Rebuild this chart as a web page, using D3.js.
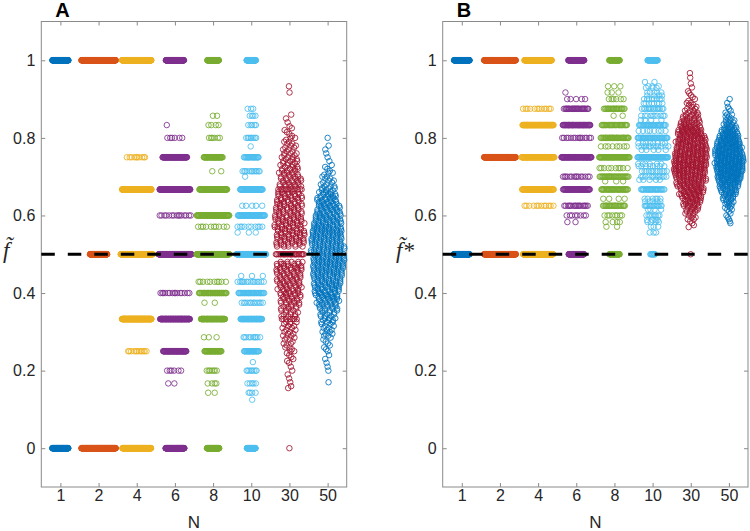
<!DOCTYPE html>
<html>
<head>
  <title>Swarm</title>
  <meta charset="utf8">
  <style type="text/css">
    body { margin: 0; background: #fff; }
  </style>
</head>
<body>

<script src="https://d3js.org/d3.v7.min.js"></script>

<script type="text/javascript">

var groups = ['1', '2', '4', '6', '8', '10', '30', '50']
var colors = ['#0072BD', '#D95319', '#EDB120', '#7E2F8E', '#77AC30', '#4DBEEE', '#A2142F', '#0072BD']
var yTicks = [0, 0.2, 0.4, 0.6, 0.8, 1]

// panel A, [value, number of runs]
var a1 = [[0, 132], [1, 132]]
var a2 = [[0, 282], [0.5, 142], [1, 282]]
var a4 = [[0, 234], [0.25, 12], [0.333, 192], [0.5, 168], [0.667, 192], [0.75, 10], [1, 240]]
var a6 = [[0, 150], [0.167, 2], [0.2, 6], [0.25, 72], [0.333, 132], [0.4, 15], [0.5, 180], [0.6, 15],
  [0.667, 132], [0.75, 84], [0.8, 6], [0.833, 1], [1, 144]]
var a8 = [[0, 96], [0.143, 2], [0.167, 4], [0.2, 7], [0.25, 42], [0.286, 3], [0.333, 84], [0.375, 2],
  [0.4, 42], [0.429, 10], [0.5, 132], [0.571, 10], [0.6, 84], [0.667, 84], [0.714, 2], [0.75, 48],
  [0.8, 6], [0.833, 4], [0.857, 2], [1, 90]]
var a10 = [[0, 66], [0.125, 1], [0.143, 4], [0.167, 5], [0.2, 8], [0.222, 1], [0.25, 30], [0.286, 10],
  [0.333, 60], [0.375, 12], [0.4, 36], [0.429, 14], [0.444, 3], [0.5, 120], [0.556, 3], [0.571, 10],
  [0.6, 60], [0.625, 5], [0.667, 60], [0.7, 1], [0.714, 12], [0.75, 24], [0.778, 1], [0.8, 8],
  [0.833, 5], [0.857, 4], [0.875, 3], [1, 70]]
var a30 = [[0, 1], [0.155, 1], [0.16, 1], [0.17, 1], [0.18, 1], [0.19, 1], [0.2, 1], [0.21, 1],
  [0.22, 1], [0.225, 1], [0.23, 1], [0.235, 1], [0.24, 1], [0.245, 1], [0.25, 2], [0.255, 1],
  [0.26, 2], [0.265, 1], [0.27, 2], [0.275, 1], [0.28, 2], [0.285, 2], [0.29, 2], [0.295, 2],
  [0.3, 2], [0.305, 2], [0.31, 2], [0.315, 2], [0.32, 2], [0.325, 3], [0.333, 7], [0.34, 3],
  [0.345, 3], [0.35, 3], [0.355, 3], [0.36, 3], [0.365, 4], [0.37, 3], [0.375, 4], [0.38, 4],
  [0.385, 4], [0.39, 4], [0.395, 4], [0.4, 5], [0.405, 4], [0.41, 5], [0.415, 4], [0.42, 5],
  [0.425, 5], [0.43, 5], [0.435, 5], [0.44, 5], [0.445, 5], [0.45, 5], [0.455, 5], [0.46, 6],
  [0.465, 6], [0.47, 5], [0.475, 6], [0.48, 5], [0.5, 25], [0.52, 5], [0.525, 6], [0.53, 6],
  [0.535, 6], [0.54, 6], [0.545, 6], [0.55, 6], [0.555, 6], [0.56, 6], [0.565, 6], [0.57, 6],
  [0.575, 6], [0.58, 6], [0.585, 6], [0.59, 6], [0.595, 6], [0.6, 6], [0.605, 5], [0.61, 6],
  [0.615, 5], [0.62, 6], [0.625, 5], [0.63, 6], [0.635, 5], [0.64, 5], [0.645, 5], [0.65, 5],
  [0.655, 5], [0.66, 5], [0.667, 12], [0.675, 5], [0.68, 5], [0.685, 4], [0.69, 5], [0.695, 4],
  [0.7, 4], [0.705, 4], [0.71, 4], [0.715, 3], [0.72, 4], [0.725, 3], [0.73, 3], [0.735, 3],
  [0.74, 3], [0.745, 3], [0.75, 3], [0.755, 2], [0.76, 3], [0.765, 2], [0.77, 2], [0.775, 2],
  [0.78, 2], [0.785, 2], [0.79, 2], [0.795, 1], [0.8, 2], [0.805, 1], [0.81, 1], [0.815, 1],
  [0.82, 1], [0.825, 1], [0.83, 1], [0.84, 1], [0.85, 1], [0.86, 1], [0.917, 1], [0.933, 1]]
var a50 = [[0.17, 1], [0.2, 1], [0.21, 1], [0.22, 1], [0.23, 1], [0.24, 1], [0.25, 1], [0.255, 1],
  [0.26, 1], [0.265, 1], [0.27, 1], [0.275, 1], [0.28, 1], [0.285, 1], [0.29, 2], [0.295, 2],
  [0.3, 2], [0.305, 2], [0.31, 2], [0.315, 2], [0.32, 2], [0.325, 3], [0.33, 3], [0.335, 3],
  [0.34, 3], [0.345, 3], [0.35, 3], [0.355, 4], [0.36, 4], [0.365, 4], [0.37, 5], [0.375, 5],
  [0.38, 5], [0.385, 5], [0.39, 6], [0.395, 6], [0.4, 6], [0.405, 6], [0.41, 6], [0.415, 7],
  [0.42, 7], [0.425, 7], [0.43, 7], [0.435, 7], [0.44, 7], [0.445, 8], [0.45, 8], [0.455, 8],
  [0.46, 8], [0.465, 8], [0.47, 8], [0.475, 8], [0.48, 8], [0.485, 8], [0.49, 8], [0.495, 8],
  [0.5, 8], [0.505, 8], [0.51, 8], [0.515, 8], [0.52, 8], [0.525, 8], [0.53, 8], [0.535, 8],
  [0.54, 8], [0.545, 8], [0.55, 8], [0.555, 8], [0.56, 8], [0.565, 8], [0.57, 8], [0.575, 7],
  [0.58, 7], [0.585, 7], [0.59, 7], [0.595, 7], [0.6, 7], [0.605, 6], [0.61, 6], [0.615, 6],
  [0.62, 6], [0.625, 6], [0.63, 5], [0.635, 5], [0.64, 5], [0.645, 5], [0.65, 4], [0.655, 4],
  [0.66, 4], [0.665, 3], [0.67, 3], [0.675, 3], [0.68, 2], [0.685, 2], [0.69, 2], [0.695, 2],
  [0.7, 2], [0.705, 1], [0.71, 2], [0.715, 1], [0.72, 1], [0.725, 1], [0.73, 1], [0.74, 1],
  [0.75, 1], [0.76, 1], [0.77, 1], [0.78, 1], [0.8, 1]]

// panel B
var b1 = [[0.5, 115], [1, 115]]
var b2 = [[0.5, 225], [0.75, 215], [1, 225]]
var b4 = [[0.5, 190], [0.625, 12], [0.667, 90], [0.75, 90], [0.833, 90], [0.875, 12], [1, 170]]
var b6 = [[0.5, 80], [0.583, 2], [0.6, 8], [0.625, 18], [0.667, 60], [0.7, 15], [0.75, 80], [0.8, 15],
  [0.833, 60], [0.875, 30], [0.9, 5], [0.917, 1], [1, 80]]
var b8 = [[0.5, 40], [0.571, 2], [0.583, 4], [0.6, 8], [0.625, 25], [0.643, 4], [0.667, 40], [0.688, 3],
  [0.7, 35], [0.722, 10], [0.75, 60], [0.778, 8], [0.8, 40], [0.833, 30], [0.857, 2], [0.875, 25],
  [0.9, 6], [0.917, 3], [0.933, 3], [1, 45]]
var b10 = [[0.5, 10], [0.556, 3], [0.571, 3], [0.583, 4], [0.588, 4], [0.6, 8], [0.615, 4], [0.625, 15],
  [0.636, 5], [0.643, 6], [0.667, 30], [0.692, 5], [0.7, 12], [0.714, 12], [0.727, 8], [0.733, 6],
  [0.75, 60], [0.769, 5], [0.778, 12], [0.786, 8], [0.8, 40], [0.818, 8], [0.833, 30], [0.846, 4],
  [0.857, 10], [0.875, 15], [0.889, 8], [0.9, 8], [0.909, 4], [0.917, 5], [0.929, 3], [0.933, 3],
  [0.944, 2], [1, 40]]
var b30 = [[0.5, 1], [0.57, 1], [0.575, 1], [0.58, 1], [0.585, 1], [0.59, 2], [0.595, 2], [0.6, 2],
  [0.605, 3], [0.61, 3], [0.615, 4], [0.62, 4], [0.625, 5], [0.63, 5], [0.635, 5], [0.64, 6],
  [0.645, 6], [0.65, 7], [0.655, 7], [0.66, 7], [0.665, 8], [0.67, 8], [0.675, 8], [0.68, 9],
  [0.685, 9], [0.69, 9], [0.695, 10], [0.7, 10], [0.705, 10], [0.71, 10], [0.715, 11], [0.72, 11],
  [0.725, 11], [0.73, 11], [0.735, 11], [0.74, 11], [0.745, 11], [0.75, 11], [0.755, 11], [0.76, 11],
  [0.765, 11], [0.77, 11], [0.775, 10], [0.78, 10], [0.785, 10], [0.79, 10], [0.795, 9], [0.8, 9],
  [0.805, 9], [0.81, 8], [0.815, 8], [0.82, 8], [0.825, 7], [0.83, 7], [0.835, 6], [0.84, 6],
  [0.845, 5], [0.85, 5], [0.855, 4], [0.86, 4], [0.865, 3], [0.87, 3], [0.875, 2], [0.88, 2],
  [0.885, 2], [0.89, 2], [0.895, 1], [0.9, 1], [0.905, 1], [0.91, 1], [0.915, 1], [0.92, 1],
  [0.93, 1], [0.94, 1], [0.955, 1], [0.967, 1]]
var b50 = [[0.58, 1], [0.585, 1], [0.59, 1], [0.595, 1], [0.6, 1], [0.605, 1], [0.61, 1], [0.615, 2],
  [0.62, 2], [0.625, 2], [0.63, 3], [0.635, 3], [0.64, 3], [0.645, 4], [0.65, 4], [0.655, 5],
  [0.66, 5], [0.665, 6], [0.67, 6], [0.675, 7], [0.68, 8], [0.685, 9], [0.69, 9], [0.695, 10],
  [0.7, 10], [0.705, 10], [0.71, 11], [0.715, 11], [0.72, 11], [0.725, 12], [0.73, 12], [0.735, 12],
  [0.74, 12], [0.745, 12], [0.75, 12], [0.755, 12], [0.76, 12], [0.765, 11], [0.77, 11], [0.775, 11],
  [0.78, 10], [0.785, 10], [0.79, 9], [0.795, 9], [0.8, 8], [0.805, 8], [0.81, 7], [0.815, 6],
  [0.82, 6], [0.825, 5], [0.83, 4], [0.835, 4], [0.84, 3], [0.845, 3], [0.85, 2], [0.855, 2],
  [0.86, 2], [0.865, 1], [0.87, 1], [0.875, 1], [0.88, 1], [0.89, 1], [0.9, 1]]


var width = 750, height = 531
var plotTop = 21.5, plotBottom = 487
var font = '"Liberation Sans", Arial, Helvetica, sans-serif'
var serif = '"Liberation Serif", "DejaVu Serif", serif'

var svg = d3.select('body').append('svg')
    .attr('width', width)
    .attr('height', height)

var panels = [
  { name: 'A', left: 41.3, right: 346.7, labelX: 3, ylab: 'f\u0303', sets: [a1, a2, a4, a6, a8, a10, a30, a50] },
  { name: 'B', left: 442.7, right: 748, labelX: 396, ylab: 'f\u0303*', sets: [b1, b2, b4, b6, b8, b10, b30, b50] }
]

panels.forEach(drawPanel)


// kernel width from the spread of each set
function kernelWidth(set) {
  var n = d3.sum(set, function(d) { return d[1] })
  var mean = d3.sum(set, function(d) { return d[0] * d[1] }) / n
  var v = d3.sum(set, function(d) { return d[1] * (d[0] - mean) * (d[0] - mean) }) / n
  return Math.min(0.1, 0.7 * Math.sqrt(v))
}

function density(set, h, y) {
  return d3.sum(set, function(d) {
    var t = (y - d[0]) / h
    return d[1] * Math.exp(-0.5 * t * t)
  })
}

function drawPanel(p) {
  var x = d3.scalePoint().domain(groups).range([p.left, p.right]).padding(0.5)
  var y = d3.scaleLinear().domain([-0.1, 1.1]).range([plotBottom, plotTop])
  var half = 0.45 * x.step()

  var g = svg.append('g')

  g.append('rect')
    .attr('x', p.left)
    .attr('y', plotTop)
    .attr('width', p.right - p.left)
    .attr('height', plotBottom - plotTop)
    .attr('fill', 'none')
    .attr('stroke', '#8a8a8a')
    .attr('stroke-width', 1)

  var axes = [
    { ax: d3.axisBottom(x), t: 'translate(0,' + plotBottom + ')', label: true },
    { ax: d3.axisTop(x), t: 'translate(0,' + plotTop + ')', label: false },
    { ax: d3.axisLeft(y).tickValues(yTicks), t: 'translate(' + p.left + ',0)', label: true },
    { ax: d3.axisRight(y).tickValues(yTicks), t: 'translate(' + p.right + ',0)', label: false }
  ]
  axes.forEach(function(a, i) {
    a.ax.tickSizeInner(-4).tickSizeOuter(0).tickPadding(i == 2 ? 6 : 3)
    if (i >= 2) a.ax.tickFormat(function(d) { return String(d) })
    if (!a.label) a.ax.tickFormat('')
    var ga = g.append('g').attr('transform', a.t).call(a.ax)
    ga.select('.domain').remove()
    ga.selectAll('line').attr('stroke', '#8a8a8a')
    ga.selectAll('text')
      .attr('fill', '#262626')
      .style('font-family', font)
      .style('font-size', '16px')
  })

  // swarm: spread of each level follows the group's density
  var dens = p.sets.map(function(set) {
    var h = kernelWidth(set)
    return set.map(function(d) { return density(set, h, d[0]) })
  })
  var dMax = d3.max(dens, function(a) { return d3.max(a) })

  var points = []
  p.sets.forEach(function(set, gi) {
    set.forEach(function(d, j) {
      var w = half * Math.min(1, dens[gi][j] / dMax)
      var seed = (j * 0.7548776662 + gi * 0.5698402910) % 1
      for (var i = 0; i < d[1]; i++) {
        var u = (seed + i * 0.6180339887) % 1
        points.push({ g: gi, v: d[0], off: (2 * u - 1) * w })
      }
    })
  })

  g.append('g').selectAll('circle')
    .data(points)
    .join('circle')
    .attr('cx', function(d) { return x(groups[d.g]) + d.off })
    .attr('cy', function(d) { return y(d.v) })
    .attr('r', 2.75)
    .attr('fill', 'none')
    .attr('stroke', function(d) { return colors[d.g] })
    .attr('stroke-width', 0.85)

  g.append('line')
    .attr('x1', p.left)
    .attr('x2', p.right)
    .attr('y1', y(0.5))
    .attr('y2', y(0.5))
    .attr('stroke', '#000')
    .attr('stroke-width', 3)
    .attr('stroke-dasharray', '13.5,13')

  g.append('text')
    .attr('x', p.left + 14)
    .attr('y', 17)
    .attr('font-family', font)
    .attr('font-weight', 'bold')
    .attr('font-size', 20)
    .attr('fill', '#000')
    .text(p.name)

  g.append('text')
    .attr('x', (p.left + p.right) / 2)
    .attr('y', 528)
    .attr('text-anchor', 'middle')
    .attr('font-family', font)
    .attr('font-size', 17)
    .attr('fill', '#262626')
    .text('N')

  g.append('text')
    .attr('x', p.labelX)
    .attr('y', 258)
    .attr('font-family', serif)
    .attr('font-style', 'italic')
    .attr('font-size', 23)
    .attr('fill', '#262626')
    .text(p.ylab)
}

</script>

</body>
</html>
